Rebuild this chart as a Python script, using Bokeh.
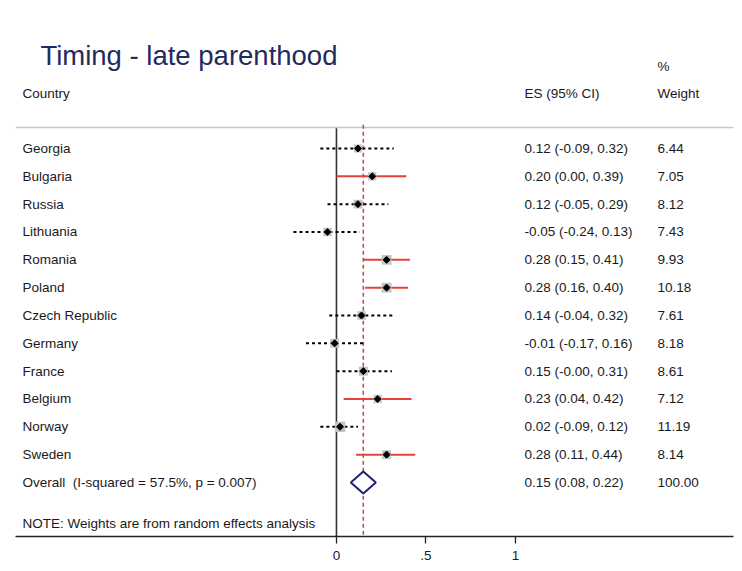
import numpy as np
from bokeh.plotting import figure
from bokeh.models import ColumnDataSource, Range1d, FixedTicker
from bokeh.core.properties import value
from bokeh.embed import file_html
from bokeh.resources import INLINE

# ---- data ----
countries = ["Georgia", "Bulgaria", "Russia", "Lithuania", "Romania", "Poland",
             "Czech Republic", "Germany", "France", "Belgium", "Norway", "Sweden"]
es = [0.12, 0.20, 0.12, -0.05, 0.28, 0.28, 0.14, -0.01, 0.15, 0.23, 0.02, 0.28]
ci_low = [-0.09, 0.00, -0.05, -0.24, 0.15, 0.16, -0.04, -0.17, -0.0, 0.04, -0.09, 0.11]
ci_high = [0.32, 0.39, 0.29, 0.13, 0.41, 0.40, 0.32, 0.16, 0.31, 0.42, 0.12, 0.44]
weights = [6.44, 7.05, 8.12, 7.43, 9.93, 10.18, 7.61, 8.18, 8.61, 7.12, 11.19, 8.14]
significant = [False, True, False, False, True, True, False, False, False, True, False, True]

overall_es = 0.15
overall_low = 0.08
overall_high = 0.22
overall_weight = 100.00
overall_label = "Overall\u00a0 (I-squared = 57.5%, p = 0.007)"
note_text = "NOTE: Weights are from random effects analysis"
title_text = "Timing - late parenthood"
tick_values = [0, 0.5, 1]
tick_labels = {0: "0", 0.5: ".5", 1: "1"}

# ---- layout helpers ----
FONT = value("Liberation Sans")
FS = "13.5px"
X_LEFT, X_RIGHT = -1.793, 2.218
Y_BOTTOM, Y_TOP = 14.942, -4.031
X_LABEL = -1.754
X_ES = 1.050
X_WT = 1.793
Y_RULE = 0.245

rows = list(range(1, len(countries) + 1))
overall_row = len(countries) + 1
note_row = 14.47

p = figure(width=740, height=569,
           x_range=Range1d(X_LEFT, X_RIGHT), y_range=Range1d(Y_BOTTOM, Y_TOP),
           output_backend="svg", toolbar_location=None, y_axis_location=None,
           min_border_left=15, min_border_right=7, min_border_top=8, min_border_bottom=33)
p.grid.visible = False
p.outline_line_color = None
p.background_fill_color = "white"
p.border_fill_color = "white"

ax = p.xaxis[0]
ax.ticker = FixedTicker(ticks=tick_values, minor_ticks=[])
ax.major_label_overrides = tick_labels
ax.axis_line_color = "#222222"
ax.axis_line_width = 1.3
ax.major_tick_line_color = "#222222"
ax.major_tick_line_width = 1.3
ax.major_tick_out = 7
ax.major_tick_in = 0
ax.minor_tick_out = 0
ax.minor_tick_in = 0
ax.major_label_standoff = 7
ax.major_label_text_font = "Liberation Sans"
ax.major_label_text_font_size = FS
ax.major_label_text_color = "#1a1a1a"

# header rule
p.segment(x0=[X_LEFT], y0=[Y_RULE], x1=[X_RIGHT], y1=[Y_RULE], line_color="#c8c8c8", line_width=1.5)

# null line and overall line
p.segment(x0=[0], y0=[Y_RULE + 0.03], x1=[0], y1=[Y_BOTTOM], line_color="#333333", line_width=1.6)
p.segment(x0=[overall_es], y0=[Y_RULE - 0.1], x1=[overall_es], y1=[Y_BOTTOM],
          line_color="#b5535e", line_width=1.6, line_dash="4 3")

src = ColumnDataSource(dict(
    row=rows, country=countries, es=es, lo=ci_low, hi=ci_high, w=weights,
    size=[3.1 * np.sqrt(w) for w in weights],
    es_txt=[f"{e:.2f} ({l:.2f}, {h:.2f})" for e, l, h in zip(es, ci_low, ci_high)],
    w_txt=[f"{w:.2f}" for w in weights],
))

sig_idx = [i for i, s in enumerate(significant) if s]
ns_idx = [i for i, s in enumerate(significant) if not s]
p.segment(x0=[ci_low[i] for i in ns_idx], y0=[rows[i] for i in ns_idx],
          x1=[ci_high[i] for i in ns_idx], y1=[rows[i] for i in ns_idx],
          line_color="black", line_width=2, line_dash="3 3")
p.segment(x0=[ci_low[i] for i in sig_idx], y0=[rows[i] for i in sig_idx],
          x1=[ci_high[i] for i in sig_idx], y1=[rows[i] for i in sig_idx],
          line_color="#e8403a", line_width=2)

p.scatter(x="es", y="row", size="size", marker="square", source=src,
          fill_color="#c4c4c4", line_color=None)
p.scatter(x="es", y="row", size=5, marker="square", angle=np.pi / 4, source=src,
          fill_color="black", line_color="black")

# overall diamond
h = 0.395
p.patch(x=[overall_low, overall_es, overall_high, overall_es],
        y=[overall_row, overall_row - h, overall_row, overall_row + h],
        fill_color="white", line_color="#1f1f7a", line_width=2)

# texts
tstyle = dict(text_font=FONT, text_font_size=FS, text_baseline="middle", text_color="#1a1a1a")
p.text(x=X_LABEL, y="row", text="country", source=src, **tstyle)
p.text(x=X_ES, y="row", text="es_txt", source=src, **tstyle)
p.text(x=X_WT, y="row", text="w_txt", source=src, **tstyle)

p.text(x=[X_LABEL], y=[overall_row], text=[overall_label], **tstyle)
p.text(x=[X_ES], y=[overall_row],
       text=[f"{overall_es:.2f} ({overall_low:.2f}, {overall_high:.2f})"], **tstyle)
p.text(x=[X_WT], y=[overall_row], text=[f"{overall_weight:.2f}"], **tstyle)
p.text(x=[X_LABEL], y=[note_row], text=[note_text], **tstyle)

p.text(x=[X_LABEL], y=[-0.976], text=["Country"], **tstyle)
p.text(x=[X_ES], y=[-0.976], text=["ES (95% CI)"], **tstyle)
p.text(x=[X_WT], y=[-0.976], text=["Weight"], **tstyle)
p.text(x=[X_WT], y=[-1.946], text=["%"], **tstyle)

p.text(x=[-1.654], y=[-2.342], text=[title_text], text_font=FONT, text_font_size="27.5px",
       text_baseline="middle", text_color="#1f2b5e")

open("out.html", "w").write(file_html(p, INLINE))
